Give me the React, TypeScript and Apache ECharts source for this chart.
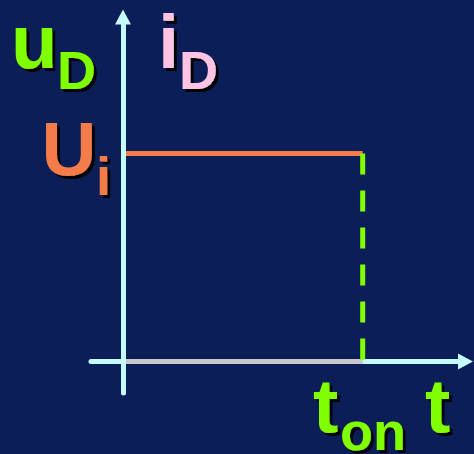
import React, { useEffect, useRef } from "react";
import * as echarts from "echarts";

// t values (t = 0 and t = t_on), in units of t_on
const timePoints = [0, 1];
// diode voltage u_D stays at U_i until t_on (units of U_i)
const uDValues = [1, 1];
// diode current i_D stays at zero
const iDValues = [0, 0];
// dashed marker at t_on, from U_i down to 0
const markerT = [1, 1];
const markerU = [1, 0];

const BG = "#0b1e58";
const AXIS = "#c6fbfb";
const GREEN = "#80ff00";
const PINK = "#ffc4e4";
const ORANGE = "#f47c4a";
const GREY = "#c8c8c8";

const BIG = 'bold 76px "Liberation Sans", Arial, sans-serif';
const SMALL = 'bold 54px "Liberation Sans", Arial, sans-serif';

function label(text: string, x: number, y: number, fill: string, font: string) {
  return {
    type: "text",
    x,
    y,
    silent: true,
    style: {
      text,
      fill,
      font,
      align: "left",
      verticalAlign: "middle",
      textShadowColor: "rgba(0,0,0,0.95)",
      textShadowBlur: 0.1,
      textShadowOffsetX: 3,
      textShadowOffsetY: 3,
    },
  };
}

export default function App() {
  const ref = useRef<HTMLDivElement>(null);
  useEffect(() => {
    if (!ref.current) return;
    const chart = echarts.init(ref.current, undefined, { renderer: "svg" });
    const line = (xs: number[], ys: number[]) => xs.map((x, i) => [x, ys[i]]);
    chart.setOption({
      animation: false,
      backgroundColor: BG,
      grid: { left: 91, right: 8.5, top: 17, bottom: 61 },
      xAxis: {
        type: "value",
        min: -0.1335,
        max: 1.4289,
        z: 0,
        axisLine: {
          show: true,
          onZero: true,
          symbol: ["none", "triangle"],
          symbolSize: [16, 15],
          lineStyle: { color: AXIS, width: 5 },
        },
        axisTick: { show: false },
        axisLabel: { show: false },
        splitLine: { show: false },
      },
      yAxis: {
        type: "value",
        min: -0.1514,
        max: 1.6563,
        z: 5,
        axisLine: {
          show: true,
          onZero: true,
          symbol: ["none", "triangle"],
          symbolSize: [16, 15],
          lineStyle: { color: AXIS, width: 5 },
        },
        axisTick: { show: false },
        axisLabel: { show: false },
        splitLine: { show: false },
      },
      series: [
        {
          name: "uD",
          type: "line",
          data: line(timePoints, uDValues),
          showSymbol: false,
          symbol: "none",
          lineStyle: { color: ORANGE, width: 5, cap: "butt" },
          z: 2,
        },
        {
          name: "iD",
          type: "line",
          data: line(timePoints, iDValues),
          showSymbol: false,
          symbol: "none",
          lineStyle: { color: GREY, width: 5, cap: "butt" },
          z: 2,
        },
        {
          name: "ton",
          type: "line",
          data: line(markerT, markerU),
          showSymbol: false,
          symbol: "none",
          lineStyle: { color: GREEN, width: 5, type: [21, 16], cap: "butt" },
          z: 2,
        },
      ],
      graphic: [
        label("u", 11, 41.4, GREEN, BIG),
        label("D", 57, 70, GREEN, SMALL),
        label("i", 158, 41.4, PINK, BIG),
        label("D", 179, 70, PINK, SMALL),
        label("U", 41.5, 148.4, ORANGE, BIG),
        label("i", 96, 176, ORANGE, SMALL),
        label("t", 313, 405.4, GREEN, BIG),
        label("on", 340, 431, GREEN, SMALL),
        label("t", 425, 405.4, GREEN, BIG),
      ],
    });
    return () => chart.dispose();
  }, []);
  return (
    <div
      ref={ref}
      style={{ position: "absolute", left: 0, top: 0, width: 474, height: 454 }}
    />
  );
}
